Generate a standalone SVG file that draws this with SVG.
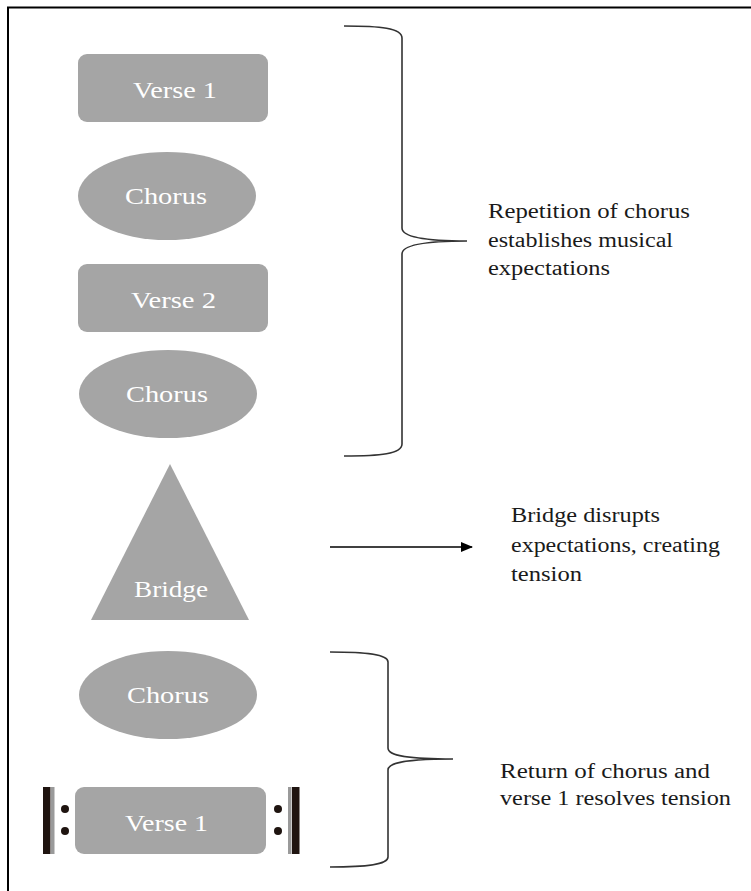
<svg xmlns="http://www.w3.org/2000/svg" width="751" height="891" viewBox="0 0 751 891">
<style>
.shape{fill:#a5a5a5;}
.lbl{font-family:'Liberation Serif','Times New Roman','DejaVu Serif',serif;font-size:24px;fill:#ffffff;}
.note{font-family:'Liberation Serif','Times New Roman','DejaVu Serif',serif;font-size:20px;fill:#1a1a1a;}
.brace{fill:none;stroke:#333333;stroke-width:1.6;}
</style>
<defs>
<marker id="ah" markerWidth="12" markerHeight="10" refX="11" refY="5" orient="auto" markerUnits="userSpaceOnUse">
<path d="M0,0 L12,5 L0,10 Z" fill="#000"/>
</marker>
</defs>
<rect width="751" height="891" fill="#ffffff"/>
<path d="M8,891 L8,7.5 L751,7.5" fill="none" stroke="#000" stroke-width="2"/>

<g id="verse1-top">
<rect class="shape" x="78" y="54" width="190" height="68" rx="9"/>
<text class="lbl" x="133" y="98" textLength="84" lengthAdjust="spacingAndGlyphs">Verse 1</text>
</g>
<g id="chorus1">
<ellipse class="shape" cx="167" cy="196" rx="89" ry="44"/>
<text class="lbl" x="125" y="204" textLength="82" lengthAdjust="spacingAndGlyphs">Chorus</text>
</g>
<g id="verse2">
<rect class="shape" x="78" y="264" width="190" height="68" rx="9"/>
<text class="lbl" x="131" y="308" textLength="85" lengthAdjust="spacingAndGlyphs">Verse 2</text>
</g>
<g id="chorus2">
<ellipse class="shape" cx="168" cy="394" rx="89" ry="44"/>
<text class="lbl" x="126" y="402" textLength="82" lengthAdjust="spacingAndGlyphs">Chorus</text>
</g>
<g id="bridge">
<polygon class="shape" points="170,464 249,620 91,620"/>
<text class="lbl" x="134" y="597" textLength="74" lengthAdjust="spacingAndGlyphs">Bridge</text>
</g>
<g id="chorus3">
<ellipse class="shape" cx="168" cy="695" rx="89" ry="44"/>
<text class="lbl" x="127" y="703" textLength="82" lengthAdjust="spacingAndGlyphs">Chorus</text>
</g>
<g id="verse1-bottom">
<rect class="shape" x="75" y="787" width="191" height="67" rx="9"/>
<text class="lbl" x="125" y="831" textLength="83" lengthAdjust="spacingAndGlyphs">Verse 1</text>
<rect x="43" y="787" width="7.5" height="67" fill="#1f1410"/>
<rect x="51" y="787" width="3.5" height="67" fill="#9a9a9a"/>
<circle cx="65" cy="809" r="4" fill="#1f1410"/>
<circle cx="65" cy="831" r="4" fill="#1f1410"/>
<circle cx="278" cy="809" r="4" fill="#1f1410"/>
<circle cx="278" cy="831" r="4" fill="#1f1410"/>
<rect x="288" y="787" width="3.5" height="67" fill="#9a9a9a"/>
<rect x="292" y="787" width="7.5" height="67" fill="#1f1410"/>
</g>

<g id="connectors">
<path class="brace" d="M344,26 C380,26 402,28 402,38 L402,228 C402,236 420,241 467,241 C420,241 402,246 402,254 L402,444 C402,454 380,456 344,456"/>
<path class="brace" d="M330,652 C365,652 388,654 388,662 L388,748 C388,756 408,759 453,759 C408,759 388,762 388,770 L388,857 C388,865 365,867 330,867"/>
<line x1="330" y1="547" x2="472" y2="547" stroke="#000" stroke-width="1.5" marker-end="url(#ah)"/>
</g>

<g id="note-repetition">
<text class="note" x="488" y="218" textLength="202" lengthAdjust="spacingAndGlyphs">Repetition of chorus</text>
<text class="note" x="488" y="247" textLength="185" lengthAdjust="spacingAndGlyphs">establishes musical</text>
<text class="note" x="488" y="275" textLength="122" lengthAdjust="spacingAndGlyphs">expectations</text>
</g>
<g id="note-bridge">
<text class="note" x="511" y="522" textLength="149" lengthAdjust="spacingAndGlyphs">Bridge disrupts</text>
<text class="note" x="511" y="552" textLength="209" lengthAdjust="spacingAndGlyphs">expectations, creating</text>
<text class="note" x="511" y="581" textLength="71" lengthAdjust="spacingAndGlyphs">tension</text>
</g>
<g id="note-return">
<text class="note" x="500" y="778" textLength="210" lengthAdjust="spacingAndGlyphs">Return of chorus and</text>
<text class="note" x="500" y="805" textLength="231" lengthAdjust="spacingAndGlyphs">verse 1 resolves tension</text>
</g>
</svg>
